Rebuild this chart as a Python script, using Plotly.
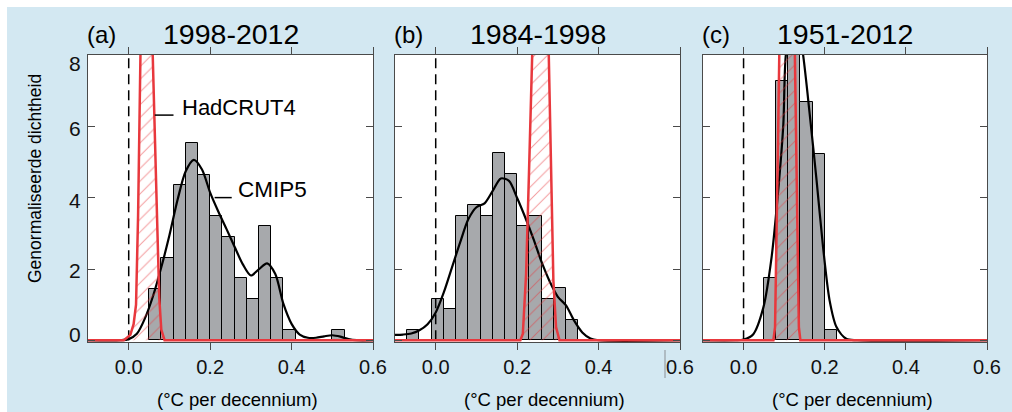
import plotly.graph_objects as go
from plotly.subplots import make_subplots

# ---------------- data ----------------
panel_titles = ["1998-2012", "1984-1998", "1951-2012"]
panel_letters = ["(a)", "(b)", "(c)"]
x_ticks = [0.0, 0.2, 0.4, 0.6]
x_tick_labels = ["0.0", "0.2", "0.4", "0.6"]
y_ticks = [0, 2, 4, 6, 8]
y_tick_labels = ["0", "2", "4", "6", "8"]
bin_width = 0.03

# Histogram (CMIP5) bin centres and densities
hist_a_x = [0.065, 0.095, 0.125, 0.155, 0.185, 0.215, 0.245, 0.275, 0.305, 0.335,
            0.365, 0.395, 0.425, 0.455, 0.485, 0.515]
hist_a_y = [1.45, 2.32, 4.36, 5.54, 4.65, 3.49, 2.90, 1.75, 1.16, 3.20,
            1.75, 0.29, 0.0, 0.0, 0.0, 0.29]

hist_b_x = [-0.055, -0.025, 0.005, 0.035, 0.065, 0.095, 0.125, 0.155, 0.185, 0.215,
            0.245, 0.275, 0.305, 0.335]
hist_b_y = [0.29, 0.0, 1.16, 0.87, 3.50, 3.79, 3.50, 5.27, 4.68, 3.21,
            3.50, 1.16, 1.46, 0.58]

hist_c_x = [0.065, 0.095, 0.125, 0.155, 0.185, 0.215]
hist_c_y = [1.75, 7.29, 12.0, 6.70, 5.23, 0.29]

# CMIP5 smoothed densities (black curves)
kde_a_x = [-0.10, -0.02, 0.00, 0.02, 0.04, 0.06, 0.08, 0.10, 0.12, 0.14, 0.16, 0.18,
           0.20, 0.22, 0.24, 0.26, 0.28, 0.30, 0.32, 0.34, 0.36, 0.38, 0.40, 0.42,
           0.44, 0.46, 0.48, 0.50, 0.52, 0.54, 0.56, 0.60]
kde_a_y = [0.0, 0.0, 0.03, 0.18, 0.62, 1.25, 2.05, 2.95, 3.95, 4.75, 5.07, 4.80,
           4.15, 3.62, 3.13, 2.63, 2.14, 1.82, 2.00, 2.16, 1.86, 1.02, 0.46, 0.16,
           0.07, 0.07, 0.11, 0.14, 0.10, 0.03, 0.0, 0.0]

kde_b_x = [-0.10, -0.08, -0.06, -0.04, -0.02, 0.00, 0.02, 0.04, 0.06, 0.08, 0.10,
           0.12, 0.14, 0.16, 0.18, 0.20, 0.22, 0.24, 0.26, 0.28, 0.30, 0.32, 0.34,
           0.36, 0.38, 0.40, 0.60]
kde_b_y = [0.15, 0.16, 0.19, 0.28, 0.45, 0.78, 1.35, 2.05, 2.75, 3.40, 3.74,
           3.85, 4.20, 4.55, 4.48, 4.00, 3.45, 2.85, 2.20, 1.65, 1.22, 0.98, 0.55,
           0.22, 0.05, 0.0, 0.0]

kde_c_x = [-0.10, -0.02, 0.00, 0.024, 0.049, 0.069, 0.086, 0.098, 0.104, 0.125,
           0.147, 0.163, 0.180, 0.196, 0.212, 0.229, 0.253, 0.28, 0.60]
kde_c_y = [0.0, 0.0, 0.02, 0.17, 0.93, 2.33, 4.29, 6.07, 8.0, 9.6,
           8.0, 6.36, 4.49, 2.61, 1.12, 0.37, 0.04, 0.0, 0.0]

# HadCRUT4 observed trend distributions (red, hatched)
obs_a_x = [-0.10, -0.012, 0.004, 0.012, 0.018, 0.023, 0.0288, 0.036, 0.044, 0.052,
           0.059, 0.064, 0.0695, 0.075, 0.080, 0.088, 0.60]
obs_a_y = [0.0, 0.0, 0.15, 0.45, 1.0, 3.5, 8.0, 16.0, 20.0, 16.0,
           8.0, 5.5, 3.5, 1.2, 0.3, 0.0, 0.0]

obs_b_x = [-0.10, 0.208, 0.214, 0.222, 0.229, 0.234, 0.245, 0.256, 0.267, 0.2776,
           0.284, 0.289, 0.2955, 0.304, 0.60]
obs_b_y = [0.0, 0.0, 0.18, 1.86, 4.67, 8.0, 14.0, 16.0, 14.0, 8.0,
           4.67, 1.68, 0.37, 0.0, 0.0]

obs_c_x = [-0.10, 0.0735, 0.0776, 0.0816, 0.0849, 0.088, 0.097, 0.107, 0.117, 0.1265,
           0.1298, 0.133, 0.1363, 0.140, 0.60]
obs_c_y = [0.0, 0.0, 0.37, 2.8, 5.6, 8.0, 18.0, 24.0, 18.0, 8.0,
           5.6, 2.8, 0.37, 0.0, 0.0]

# label texts
label_had = "HadCRUT4"
label_cmip = "CMIP5"
x_title = "(°C per decennium)"
y_title = "Genormaliseerde dichtheid"

# ---------------- styling ----------------
BLUE = "#d3e8f2"
RED = "#e8383d"
BAR = "#a7a9ac"
FRAME = "#4a4a4a"
FONT = "Liberation Sans, Arial, Helvetica, sans-serif"

W, H = 1012, 412
ML, MR, MT, MB = 88, 25, 55, 70
PW, PH = W - ML - MR, H - MT - MB

def px2fx(px):
    return (px - ML) / PW

def py2fy(py):
    return (H - MB - py) / PH

fig = make_subplots(rows=1, cols=3)
domains = [[px2fx(88), px2fx(373)], [px2fx(395), px2fx(680)], [px2fx(703), px2fx(987)]]

hists = [(hist_a_x, hist_a_y), (hist_b_x, hist_b_y), (hist_c_x, hist_c_y)]
kdes = [(kde_a_x, kde_a_y), (kde_b_x, kde_b_y), (kde_c_x, kde_c_y)]
obss = [(obs_a_x, obs_a_y), (obs_b_x, obs_b_y), (obs_c_x, obs_c_y)]

for i in range(3):
    col = i + 1
    hx, hy = hists[i]
    fig.add_trace(go.Bar(x=hx, y=hy, width=[bin_width] * len(hx),
                         marker=dict(color=BAR, line=dict(color="black", width=1)),
                         showlegend=False, hoverinfo="skip"), row=1, col=col)
    kx, ky = kdes[i]
    fig.add_trace(go.Scatter(x=kx, y=ky, mode="lines",
                             line=dict(color="black", width=2.2, shape="spline", smoothing=0.8),
                             showlegend=False, hoverinfo="skip"), row=1, col=col)
    fig.add_trace(go.Scatter(x=[0, 0], y=[0, 8.1], mode="lines",
                             line=dict(color="black", width=1.5, dash="10px,6px"),
                             showlegend=False, hoverinfo="skip"), row=1, col=col)
    ox, oy = obss[i]
    fig.add_trace(go.Scatter(x=ox, y=oy, mode="lines", fill="tozeroy",
                             fillcolor="rgba(0,0,0,0)",
                             fillpattern=dict(shape="/", fgcolor=RED,
                                              bgcolor="rgba(0,0,0,0)", size=9, solidity=0.11),
                             line=dict(color=RED, width=2.5),
                             showlegend=False, hoverinfo="skip"), row=1, col=col)

    xa = "xaxis" if i == 0 else f"xaxis{col}"
    ya = "yaxis" if i == 0 else f"yaxis{col}"
    fig.layout[xa].update(domain=domains[i], range=[-0.1, 0.6], tickvals=x_ticks,
                          ticktext=x_tick_labels, ticks="outside", ticklen=7,
                          tickcolor=FRAME, showline=True, linecolor=FRAME, linewidth=1.2,
                          mirror="ticks", showgrid=False, zeroline=False,
                          tickfont=dict(size=20, color="#111", family=FONT))
    fig.layout[ya].update(range=[-0.05, 8.02], tickvals=y_ticks,
                          showticklabels=False, ticks="inside", ticklen=7,
                          tickcolor=FRAME, showline=True, linecolor=FRAME, linewidth=1.2,
                          mirror="ticks", showgrid=False, zeroline=False)

    xref_dom = "x domain" if i == 0 else f"x{col} domain"
    fig.add_annotation(text=panel_titles[i], xref=xref_dom, yref="paper", x=0.5,
                       y=py2fy(34), xanchor="center", yanchor="middle", showarrow=False,
                       font=dict(size=28.5, color="black", family=FONT))
    fig.add_annotation(text=panel_letters[i], xref=xref_dom, yref="paper", x=0,
                       y=py2fy(35), xanchor="left", yanchor="middle", showarrow=False,
                       xshift=-3, font=dict(size=24, color="black", family=FONT))
    fig.add_annotation(text=x_title, xref=xref_dom, yref="paper", x=0.5, xshift=7,
                       y=py2fy(399), xanchor="center", yanchor="middle", showarrow=False,
                       font=dict(size=18.5, color="black", family=FONT))

# y tick labels of panel (a) (outer labels nudged inward as in the original)
label_nudge = {0: 6, 2: -1.5, 4: -2.5, 6: -1.5, 8: -8}
for val, lab in zip(y_ticks, y_tick_labels):
    fig.add_annotation(text=lab, xref="paper", yref="y", x=px2fx(83), y=val,
                       xanchor="right", yanchor="middle", showarrow=False,
                       yshift=label_nudge[val],
                       font=dict(size=21, color="#111", family=FONT))

# y-axis title
fig.add_annotation(text=y_title, xref="paper", yref="paper", x=px2fx(35), y=py2fy(179),
                   xanchor="center", yanchor="middle", textangle=-90, showarrow=False,
                   font=dict(size=17.5, color="black", family=FONT))

# panel (a) labels with leader lines
fig.add_annotation(text=label_had, xref="x", yref="y", x=0.125, y=6.53, xanchor="left",
                   yanchor="middle", showarrow=False,
                   font=dict(size=22, color="black", family=FONT))
fig.add_annotation(text=label_cmip, xref="x", yref="y", x=0.263, y=4.25, xanchor="left",
                   yanchor="middle", showarrow=False,
                   font=dict(size=22.5, color="black", family=FONT))
fig.add_shape(type="line", xref="x", yref="y", x0=0.064, x1=0.110, y0=6.33, y1=6.33,
              line=dict(color="black", width=1.5))
fig.add_shape(type="line", xref="x", yref="y", x0=0.211, x1=0.253, y0=4.01, y1=4.01,
              line=dict(color="black", width=1.5))

# white strips at the top and left edge of the image
fig.add_shape(type="rect", xref="paper", yref="paper", x0=px2fx(0), x1=px2fx(W),
              y0=py2fy(7), y1=py2fy(0), fillcolor="white", line=dict(width=0), layer="below")
fig.add_shape(type="rect", xref="paper", yref="paper", x0=px2fx(0), x1=px2fx(7),
              y0=py2fy(H), y1=py2fy(0), fillcolor="white", line=dict(width=0), layer="below")
# thin vertical artefact near the (b) 0.6 label
fig.add_shape(type="line", xref="paper", yref="paper", x0=px2fx(665), x1=px2fx(665),
              y0=py2fy(350), y1=py2fy(378), line=dict(color="#8a8f94", width=1))

fig.update_layout(width=W, height=H, margin=dict(l=ML, r=MR, t=MT, b=MB),
                  paper_bgcolor=BLUE, plot_bgcolor="white", bargap=0,
                  font=dict(family=FONT, color="black"), showlegend=False)

fig.write_html("out.html", config={"displayModeBar": False},
               post_script="document.body.style.margin='0';"
                           "document.body.style.padding='0';"
                           "document.body.style.overflow='hidden';"
                           "document.documentElement.style.overflow='hidden';")
